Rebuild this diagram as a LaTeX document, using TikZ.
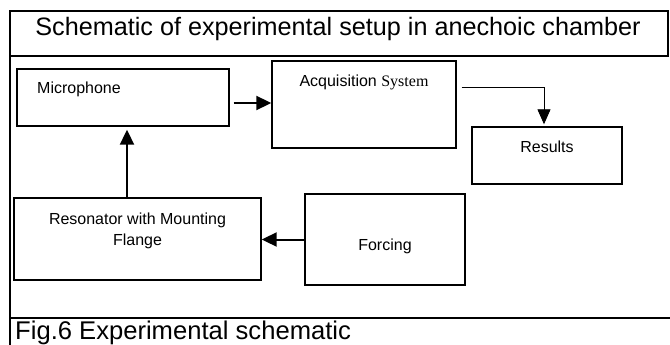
\documentclass[tikz,border=0pt]{standalone}
\usepackage{fontspec}
\setmainfont{Liberation Sans}
\newfontfamily\timesfont{Liberation Serif}
\usetikzlibrary{arrows.meta,calc}
\tikzset{
  box/.style={draw, line width=1.4pt, inner sep=0pt, fill=none},
  frameline/.style={line width=1.8pt},
  lbl/.style={font=\fontsize{16}{21}\selectfont, inner sep=0pt, anchor=base},
  bigtxt/.style={font=\fontsize{25.2}{30}\selectfont, inner sep=0pt, anchor=base},
  captxt/.style={font=\fontsize{25.6}{30}\selectfont, inner sep=0pt, anchor=base west},
  arr/.style={line width=2pt, -{Triangle[length=15pt,width=14pt]}},
  thinarr/.style={line width=0.9pt, -{Triangle[length=15pt,width=13pt]}},
}
\begin{document}
\begin{tikzpicture}[x=1pt,y=-1pt]
\useasboundingbox (0,0) rectangle (670,345);
% frame
\coordinate (ftl) at (10,11);
\coordinate (ftr) at (668,11);
\coordinate (fbr) at (668,56);
\coordinate (fbl) at (10,56);
\coordinate (fbot) at (10,345);
\coordinate (cl) at (10,318);
\coordinate (cr) at (670,318);
\draw[frameline] (fbot) -- (ftl) -- (ftr) -- (fbr) -- (fbl);
\draw[frameline] (cl) -- (cr);
\node[bigtxt] (title) at (338,36) {Schematic of experimental setup in anechoic chamber};
\node[captxt] (caption) at (15,339.5) {Fig.6 Experimental schematic};
% boxes
\node[box, minimum width=212pt, minimum height=57pt] (mic) at (123,97.5) {};
\node[box, minimum width=184pt, minimum height=87pt] (acq) at (364,104.5) {};
\node[box, minimum width=150pt, minimum height=57pt] (res) at (547,155.5) {};
\node[box, minimum width=247pt, minimum height=82pt] (reson) at (137.5,239) {};
\node[box, minimum width=160pt, minimum height=91pt] (forc) at (385,239.5) {};
% texts
\node[lbl, anchor=base west] (mictxt) at (37,94) {Microphone};
\node[lbl] (acqtxt) at (364,86.5) {Acquisition {\timesfont System}};
\node[lbl] (restxt) at (547,152) {Results};
\node[lbl] (reson1) at (137.5,224) {Resonator with Mounting};
\node[lbl] (reson2) at (137.5,245) {Flange};
\node[lbl] (forctxt) at (385,250.5) {Forcing};
% connectors
\draw[arr] ([shift={(4,5.5)}]mic.east) coordinate (a1) -- (a1 -| acq.west);
\draw[thinarr, shorten >=2pt] ([shift={(5,-17.5)}]acq.east) -| ([xshift=-3pt]res.north);
\draw[arr, shorten >=3pt] ([xshift=-10.5pt]reson.north) coordinate (b1) -- (b1 |- mic.south);
\draw[arr] (forc.west) -- (forc.west -| reson.east);
\end{tikzpicture}
\end{document}
